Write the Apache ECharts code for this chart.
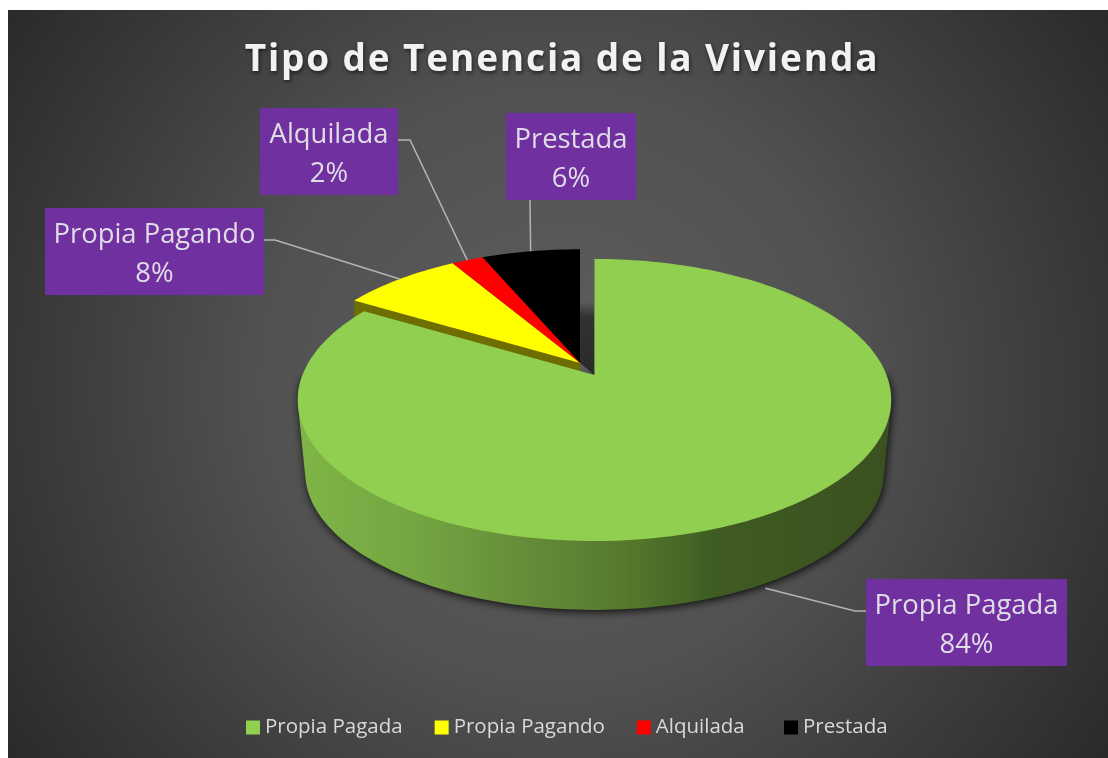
<!DOCTYPE html>
<html><head><meta charset="utf-8">
<style>html,body{margin:0;padding:0;background:#fff}#c{width:1108px;height:758px}</style>
<script src="https://cdn.jsdelivr.net/npm/echarts@6/dist/echarts.min.js"></script>
</head><body><div id="c"></div>
<script>
const titleText = 'Tipo de Tenencia de la Vivienda';
const categories = ['Propia Pagada', 'Propia Pagando', 'Alquilada', 'Prestada'];
const values = [83.51, 7.9, 2.1, 6.49];
const colors = ['#90cf50', '#ffff00', '#ff0000', '#000000'];
const sideColors = ['#5d8a35', '#6e6e00', '#700000', '#000000'];
const FONT = '"Open Sans", sans-serif';

// the title is letter-spaced in the reference; every other text is not
const nativeFillText = CanvasRenderingContext2D.prototype.fillText;
CanvasRenderingContext2D.prototype.fillText = function (text, x, y, maxWidth) {
  const font = this.font;
  this.letterSpacing = text === titleText ? '1.85px' : '0px';
  this.font = font;
  if (maxWidth === undefined) nativeFillText.call(this, text, x, y);
  else nativeFillText.call(this, text, x, y, maxWidth);
};

// projection of the tilted pie (perspective ellipse)
const K = 0.1773, A = 292, B = 136.6, DEPTH = 73, BOTTOM_SCALE = 0.975;
const mainApex = [594.5, 375], looseApex = [580, 363], looseScale = 0.98;
// label box layout
const boxes = [
  {x: 866, y: 579, w: 201, h: 87, ex: 855, ey: 611, sx: 866, wall: true},
  {x: 45,  y: 208, w: 219, h: 87, ex: 275, ey: 240, sx: 264},
  {x: 260, y: 108, w: 138, h: 87, ex: 410, ey: 140, sx: 398},
  {x: 506, y: 113, w: 130, h: 87, ex: 530, ey: 200, sx: 530}
];

const total = values.reduce((a, b) => a + b, 0);
function rim(apex, scale, deg, drop) {
  const t = deg * Math.PI / 180, u = Math.sin(t), v = Math.cos(t), w = 1 + K * v;
  return [apex[0] + scale * A * u / w, apex[1] + (drop || 0) - scale * B * v / w];
}
function arc(apex, scale, from, to, drop) {
  const pts = [], n = Math.max(2, Math.ceil(Math.abs(to - from) / 1.5));
  for (let i = 0; i <= n; i++) pts.push(rim(apex, scale, from + (to - from) * i / n, drop));
  return pts;
}
function hull(points) {
  const p = points.slice().sort((a, b) => a[0] - b[0] || a[1] - b[1]);
  const cross = (o, a, b) => (a[0]-o[0])*(b[1]-o[1]) - (a[1]-o[1])*(b[0]-o[0]);
  const lo = [], up = [];
  for (const q of p) { while (lo.length > 1 && cross(lo[lo.length-2], lo[lo.length-1], q) <= 0) lo.pop(); lo.push(q); }
  for (const q of p.slice().reverse()) { while (up.length > 1 && cross(up[up.length-2], up[up.length-1], q) <= 0) up.pop(); up.push(q); }
  return lo.slice(0, -1).concat(up.slice(0, -1));
}
const linear = (x0, y0, x1, y1, stops) => ({type: 'linear', x: x0, y: y0, x2: x1, y2: y1, global: true,
  colorStops: stops.map(s => ({offset: s[0], color: s[1]}))});

function renderSlice(index) {
  return function (params, api) {
    const value = api.value(0);
    let before = 0;
    for (let i = 0; i < index; i++) before += values[i];
    const from = before / total * 360, to = (before + value) / total * 360, mid = (from + to) / 2;
    const isMain = index === 0;
    const apex = isMain ? mainApex : looseApex, scale = isMain ? 1 : looseScale;
    const kids = [];
    if (isMain) {
      const front = arc(apex, 1, 90, 270, 0).concat(arc(apex, BOTTOM_SCALE, 90, 270, DEPTH));
      kids.push({type: 'polygon', shape: {points: hull(front)}, style: {
        fill: linear(298, 0, 892, 0, [[0, '#7fb548'], [0.2, '#74a541'], [0.4, '#648a38'], [0.55, '#56792e'], [0.7, '#3f5c22'], [1, '#3a5020']]),
        shadowBlur: 8, shadowColor: 'rgba(0,0,0,0.85)', shadowOffsetX: 1, shadowOffsetY: 2}});
      kids.push({type: 'polygon', shape: {points: [[580, 302], [594, 302], [594.5, 375], [580, 363]]}, style: {
        fill: linear(0, 302, 0, 375, [[0, 'rgba(0,0,0,0)'], [0.2, 'rgba(0,0,0,0.45)'], [1, 'rgba(0,0,0,0.55)']])}});
    } else {
      const e = rim(apex, scale, from);
      kids.push({type: 'polygon', shape: {points: [apex, e, [e[0], e[1] + DEPTH], [apex[0], apex[1] + DEPTH]]},
        style: {fill: sideColors[index]}});
    }
    kids.push({type: 'polygon', shape: {points: [apex].concat(arc(apex, scale, from, to))}, style: {fill: colors[index]}});

    const b = boxes[index];
    const anchor = rim(apex, scale, mid, b.wall ? DEPTH : 0);
    const pct = Math.round(value / total * 100) + '%';
    const line = index === 3 ? [[b.sx, b.y + b.h], anchor] : [[b.sx, b.ey], [b.ex, b.ey], anchor];
    kids.push({type: 'polyline', shape: {points: line}, style: {fill: 'none', stroke: '#b4b4b4', lineWidth: 1.5}, z2: 5});
    kids.push({type: 'rect', shape: {x: b.x, y: b.y, width: b.w, height: b.h}, style: {fill: '#7030a0'}, z2: 6});
    kids.push({type: 'text', z2: 7, style: {x: b.x + b.w / 2, y: b.y + b.h / 2 + 3, text: categories[index] + '\n' + pct,
      align: 'center', verticalAlign: 'middle', fill: '#e0dce6', font: '27.4px ' + FONT, lineHeight: 39}});
    return {type: 'group', children: kids};
  };
}

const legendBase = {top: 712, icon: 'rect', itemWidth: 14, itemHeight: 14, itemGap: 32,
  textStyle: {color: '#d9d9d9', fontFamily: FONT, fontSize: 20.5}};
const chart = echarts.init(document.getElementById('c'));
chart.setOption({
  animation: false,
  backgroundColor: '#ffffff',
  graphic: [{type: 'rect', z: -10, shape: {x: 8, y: 10, width: 1100, height: 748}, style: {
    fill: {type: 'radial', x: 558, y: 384, r: 665, global: true, colorStops: [
      {offset: 0, color: '#5e5e5e'}, {offset: 0.45, color: '#515151'}, {offset: 0.8, color: '#383838'}, {offset: 1, color: '#2a2a2a'}]}}}],
  title: {text: titleText, left: 557, top: 37, textAlign: 'center',
    textStyle: {color: '#f2f2f2', fontFamily: FONT, fontWeight: 'bold', fontSize: 37,
      textShadowColor: 'rgba(0,0,0,0.6)', textShadowBlur: 4, textShadowOffsetX: 1, textShadowOffsetY: 2}},
  legend: [
    Object.assign({left: 241, data: categories.slice(0, 3)}, legendBase),
    Object.assign({left: 779, data: categories.slice(3)}, legendBase)
  ],
  series: [3, 2, 1, 0].map(i => ({
    type: 'custom', name: categories[i], coordinateSystem: 'none', z: 10 - i,
    itemStyle: {color: colors[i]}, clip: false, silent: true,
    renderItem: renderSlice(i), data: [[values[i]]]
  }))
});
</script></body></html>
